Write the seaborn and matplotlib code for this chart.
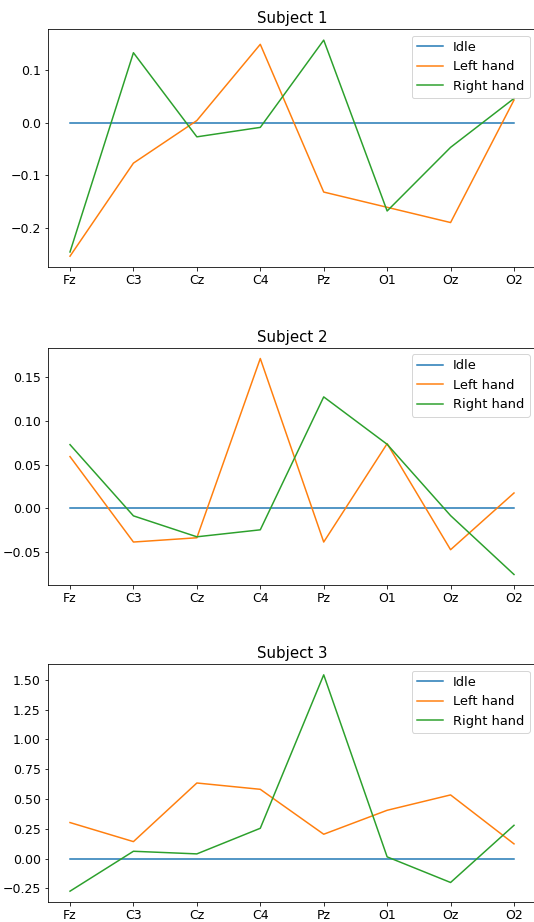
import numpy as np
import pandas as pd
import matplotlib
matplotlib.use("Agg")
import matplotlib.pyplot as plt
import seaborn as sns

channels = ["Fz", "C3", "Cz", "C4", "Pz", "O1", "Oz", "O2"]
conditions = ["Idle", "Left hand", "Right hand"]

s1_idle = [0.0, 0.0, 0.0, 0.0, 0.0, 0.0, 0.0, 0.0]
s1_left = [-0.254, -0.077, 0.004, 0.149, -0.132, -0.161, -0.190, 0.043]
s1_right = [-0.246, 0.133, -0.027, -0.009, 0.157, -0.168, -0.047, 0.046]

s2_idle = [0.0, 0.0, 0.0, 0.0, 0.0, 0.0, 0.0, 0.0]
s2_left = [0.0592, -0.0387, -0.0338, 0.1716, -0.0387, 0.074, -0.0475, 0.0175]
s2_right = [0.0729, -0.0087, -0.0327, -0.0247, 0.1276, 0.0733, -0.0084, -0.0759]

s3_idle = [0.0, 0.0, 0.0, 0.0, 0.0, 0.0, 0.0, 0.0]
s3_left = [0.302, 0.142, 0.634, 0.581, 0.204, 0.405, 0.534, 0.123]
s3_right = [-0.274, 0.061, 0.039, 0.254, 1.542, 0.014, -0.201, 0.279]

subjects = {
    "Subject 1": [s1_idle, s1_left, s1_right],
    "Subject 2": [s2_idle, s2_left, s2_right],
    "Subject 3": [s3_idle, s3_left, s3_right],
}

palette = ["#1f77b4", "#ff7f0e", "#2ca02c"]

plt.rcParams["font.size"] = 12.5
plt.rcParams["font.family"] = ["DejaVu Sans"]

W, H = 534, 922
fig = plt.figure(figsize=(W / 72, H / 72), dpi=72)

# axes boxes in pixels (left, top, right, bottom) - right edge is just off the canvas
boxes = [(47.8, 29.3, 536.2, 267.0),
         (47.8, 347.7, 536.2, 585.3),
         (47.8, 664.0, 536.2, 902.0)]

for (title, series), (l, t, r, b) in zip(subjects.items(), boxes):
    ax = fig.add_axes([l / W, (H - b) / H, (r - l) / W, (b - t) / H])
    rows = []
    for cond, vals in zip(conditions, series):
        for ch, v in zip(channels, vals):
            rows.append({"channel": ch, "value": v, "condition": cond})
    df = pd.DataFrame(rows)
    sns.lineplot(data=df, x="channel", y="value", hue="condition",
                 palette=palette, sort=False, linewidth=1.5, ax=ax)
    leg = ax.get_legend()
    handles = leg.legend_handles
    labels = [txt.get_text() for txt in leg.get_texts()]
    ax.legend(handles, labels, loc="upper right", fontsize=13)
    ax.set_title(title, fontsize=15)
    ax.tick_params(labelsize=12.5)
    ax.set_xlabel("")
    ax.set_ylabel("")

fig.savefig("out.png", dpi=72)
